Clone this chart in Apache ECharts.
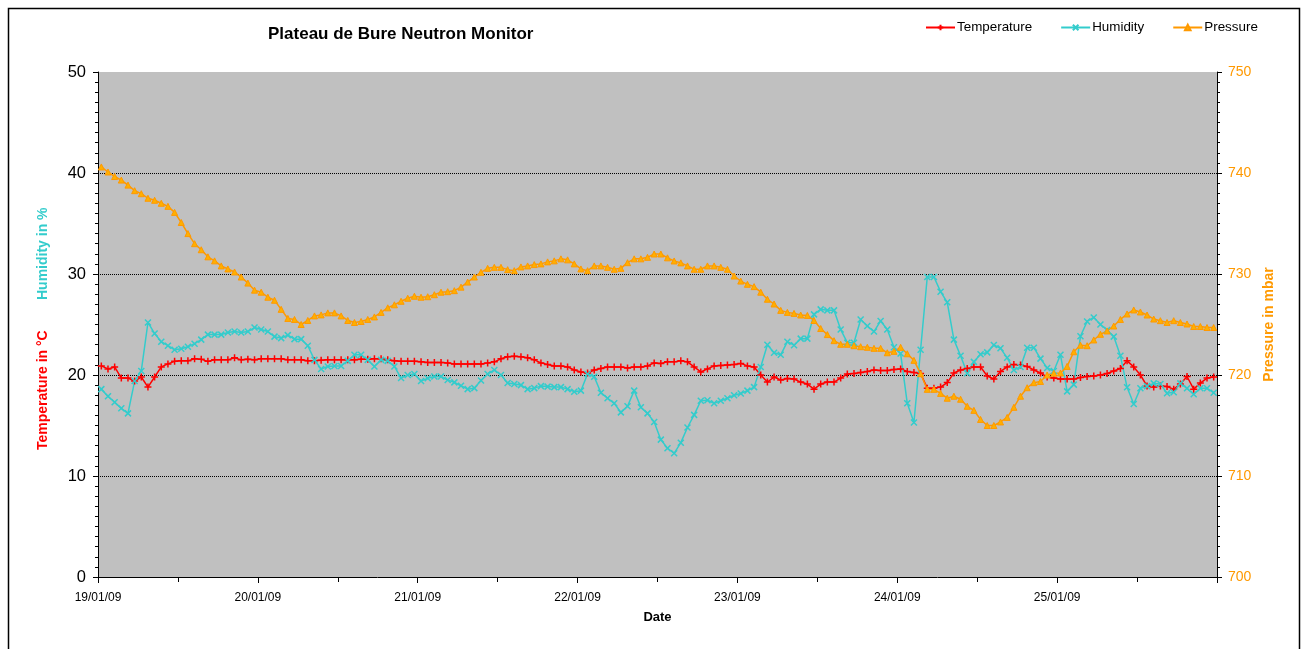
<!DOCTYPE html>
<html><head><meta charset="utf-8">
<script src="https://cdn.jsdelivr.net/npm/echarts@6/dist/echarts.min.js"></script>
<style>html,body{margin:0;padding:0;background:#fff}#c{width:1304px;height:649px}</style>
</head><body><div id="c"></div>
<script>
// Day tick labels (one per 24 h)
const dayLabels = ['19/01/09','20/01/09','21/01/09','22/01/09','23/01/09','24/01/09','25/01/09'];

// Hourly values, 19/01/09 00:30 .. 25/01/09 23:30
const temperature = [
20.9,20.6,20.8,19.7,19.7,19.4,19.8,18.8,19.8,20.8,21.1,21.35,21.4,21.4,21.6,21.55,21.35,21.5,21.5,21.5,21.7,21.5,21.55,21.5,
21.6,21.6,21.6,21.6,21.5,21.5,21.5,21.4,21.4,21.45,21.5,21.5,21.5,21.5,21.5,21.55,21.55,21.6,21.6,21.5,21.4,21.35,21.35,21.35,
21.3,21.25,21.25,21.25,21.2,21.1,21.1,21.1,21.1,21.1,21.2,21.3,21.6,21.8,21.85,21.8,21.7,21.5,21.2,21.05,20.9,20.9,20.8,20.5,
20.3,20.2,20.5,20.65,20.8,20.8,20.8,20.7,20.8,20.8,20.9,21.2,21.15,21.3,21.3,21.4,21.3,20.8,20.3,20.6,20.9,20.95,21.0,21.05,
21.15,20.9,20.8,20.0,19.3,19.8,19.5,19.65,19.6,19.3,19.1,18.6,19.1,19.3,19.3,19.7,20.1,20.15,20.25,20.35,20.5,20.45,20.45,20.55,
20.6,20.35,20.25,20.15,18.7,18.7,18.8,19.25,20.2,20.5,20.65,20.8,20.8,19.9,19.6,20.35,20.8,21.05,21.0,20.85,20.5,20.2,19.8,19.7,
19.6,19.6,19.6,19.75,19.85,19.9,20.0,20.15,20.4,20.65,21.4,20.8,20.0,18.9,18.8,18.9,18.85,18.6,19.1,19.85,18.6,19.2,19.7,19.8
];
const humidity = [
18.6,17.9,17.3,16.7,16.2,19.4,20.4,25.2,24.1,23.3,22.9,22.5,22.6,22.8,23.1,23.5,24.0,24.0,24.0,24.2,24.3,24.2,24.3,24.7,
24.5,24.3,23.8,23.65,23.95,23.55,23.55,22.9,21.5,20.6,20.85,20.9,20.9,21.4,22.0,22.0,21.5,20.85,21.5,21.4,20.85,19.7,20.0,20.1,
19.4,19.67,19.85,19.85,19.5,19.27,18.94,18.6,18.7,19.45,20.1,20.5,20.0,19.2,19.1,19.0,18.6,18.7,18.9,18.85,18.8,18.8,18.6,18.35,
18.45,20.1,19.83,18.25,17.7,17.2,16.3,16.9,18.45,16.8,16.2,15.35,13.6,12.75,12.25,13.3,14.8,16.05,17.45,17.5,17.2,17.45,17.7,18.0,
18.17,18.45,18.8,20.8,23.0,22.2,22.0,23.3,22.95,23.6,23.6,26.0,26.5,26.4,26.4,24.5,23.2,23.2,25.5,24.85,24.3,25.35,24.5,22.74,
22.12,17.2,15.3,22.5,29.7,29.7,28.25,27.2,23.5,21.9,20.17,21.3,22.05,22.24,22.97,22.64,21.7,20.5,20.8,22.7,22.7,21.62,20.7,20.4,
22.0,18.38,19.05,23.83,25.3,25.7,25.0,24.46,23.8,21.9,18.78,17.13,18.68,18.9,19.17,19.1,18.2,18.3,19.17,18.68,18.1,18.68,18.68,18.25
];
const pressure = [
740.6,740.1,739.65,739.3,738.8,738.25,737.95,737.5,737.3,737.0,736.7,736.1,735.1,734.0,733.0,732.4,731.7,731.3,730.8,730.5,730.2,729.7,729.1,728.4,
728.2,727.7,727.4,726.5,725.6,725.5,725.0,725.4,725.85,725.95,726.15,726.15,725.85,725.4,725.2,725.3,725.5,725.75,726.2,726.65,726.95,727.3,727.6,727.8,
727.7,727.75,727.95,728.2,728.25,728.35,728.7,729.2,729.7,730.17,730.56,730.66,730.66,730.43,730.33,730.7,730.8,730.93,731.0,731.2,731.3,731.5,731.4,731.0,
730.5,730.33,730.8,730.8,730.66,730.47,730.56,731.12,731.5,731.5,731.65,731.98,731.98,731.6,731.29,731.1,730.8,730.47,730.47,730.8,730.8,730.66,730.47,729.8,
729.3,728.98,728.75,728.2,727.5,727.03,726.4,726.2,726.1,725.94,725.9,725.4,724.6,724.0,723.4,723.04,723.04,722.9,722.8,722.74,722.64,722.64,722.2,722.34,
722.74,722.1,721.45,720.13,718.58,718.58,718.18,717.7,717.9,717.6,716.9,716.5,715.6,715.0,715.0,715.35,715.8,716.8,717.9,718.74,719.24,719.36,720.0,720.17,
720.2,720.85,722.3,722.95,722.9,723.47,724.03,724.36,724.85,725.5,726.04,726.44,726.24,725.94,725.54,725.38,725.2,725.38,725.2,725.05,724.8,724.8,724.7,724.7
];

// each value is the mean of one hour, placed at the middle of that hour
const hourCentre = temperature.map((_, i) => i + 0.5);
const toPoints = values => values.map((v, i) => [hourCentre[i], v]);

const FONT = '"Liberation Sans", Arial, sans-serif';
const RED = '#FF0000', CYAN = '#33CCCC', ORANGE = '#FF9900';
const PLUS = 'path://M0,5L10,5M5,0L5,10';
const CROSS = 'path://M0,0L10,10M10,0L0,10';

const chart = echarts.init(document.getElementById('c'));
chart.setOption({
  animation: false,
  backgroundColor: '#fff',
  textStyle: { fontFamily: FONT },
  title: {
    text: 'Plateau de Bure Neutron Monitor', left: 263, top: 21,
    textStyle: { fontSize: 17, fontWeight: 'bold', color: '#000', fontFamily: FONT }
  },
  legend: {
    left: 920, top: 16, itemWidth: 29, itemHeight: 7, itemGap: 28,
    textStyle: { fontSize: 13.4, color: '#000', fontFamily: FONT, padding: [0, 0, 0, -3] },
    data: ['Temperature', 'Humidity', 'Pressure']
  },
  grid: {
    left: 98, right: 87, top: 72, bottom: 72,
    show: true, backgroundColor: '#C0C0C0', borderWidth: 0,
    outerBoundsMode: 'none'
  },
  xAxis: {
    type: 'value', min: 0, max: 168, interval: 24,
    name: 'Date', nameLocation: 'middle', nameGap: 34,
    nameTextStyle: { fontWeight: 'bold', fontSize: 13, color: '#000', fontFamily: FONT },
    axisLine: { lineStyle: { color: '#000', width: 1 } },
    axisTick: { length: 6, lineStyle: { color: '#000' } },
    minorTick: { show: true, splitNumber: 2, length: 5, lineStyle: { color: '#000' } },
    splitLine: { show: false },
    axisLabel: {
      fontSize: 12, color: '#000', margin: 15, fontFamily: FONT,
      formatter: v => dayLabels[Math.round(v / 24)] || ''
    }
  },
  yAxis: [
    {
      type: 'value', min: 0, max: 50, interval: 10, position: 'left',
      axisLine: { show: true, lineStyle: { color: '#000', width: 1 } },
      axisTick: { show: true, length: 5, lineStyle: { color: '#000' } },
      minorTick: { show: true, splitNumber: 10, length: 3, lineStyle: { color: '#000' } },
      splitLine: { show: true, showMaxLine: false, lineStyle: { color: '#000', type: 'dotted', width: 1 } },
      axisLabel: { fontSize: 16.5, color: '#000', margin: 12, fontFamily: FONT }
    },
    {
      type: 'value', min: 700, max: 750, interval: 10, position: 'right',
      name: 'Pressure in mbar', nameLocation: 'middle', nameRotate: 90, nameGap: 34,
      nameTextStyle: { color: ORANGE, fontWeight: 'bold', fontSize: 14, fontFamily: FONT },
      axisLine: { show: true, lineStyle: { color: '#000', width: 1 } },
      axisTick: { show: true, length: 5, lineStyle: { color: '#000' } },
      minorTick: { show: true, splitNumber: 10, length: 3, lineStyle: { color: '#000' } },
      splitLine: { show: false },
      axisLabel: { fontSize: 14, color: ORANGE, margin: 11, fontFamily: FONT }
    }
  ],
  graphic: [
    { type: 'rect', silent: true, shape: { x: 8.5, y: 8.5, width: 1291, height: 700 },
      style: { fill: 'none', stroke: '#000', lineWidth: 1.5 } },
    { type: 'text', x: 50, y: 450, rotation: Math.PI / 2,
      style: { text: 'Temperature in °C', fill: RED, font: 'bold 14px "Liberation Sans", Arial', align: 'left', verticalAlign: 'bottom' } },
    { type: 'text', x: 50, y: 300, rotation: Math.PI / 2,
      style: { text: 'Humidity in %', fill: CYAN, font: 'bold 14px "Liberation Sans", Arial', align: 'left', verticalAlign: 'bottom' } }
  ],
  series: [
    {
      name: 'Temperature', type: 'line', yAxisIndex: 0, data: toPoints(temperature),
      symbol: PLUS, symbolSize: 7, showSymbol: true,
      lineStyle: { color: RED, width: 1.5 },
      itemStyle: { color: RED, borderColor: RED, borderWidth: 1.5 }
    },
    {
      name: 'Humidity', type: 'line', yAxisIndex: 0, data: toPoints(humidity),
      symbol: CROSS, symbolSize: 6, showSymbol: true,
      lineStyle: { color: CYAN, width: 1.5 },
      itemStyle: { color: CYAN, borderColor: CYAN, borderWidth: 1.5 }
    },
    {
      name: 'Pressure', type: 'line', yAxisIndex: 1, data: toPoints(pressure),
      symbol: 'triangle', symbolSize: 6, showSymbol: true,
      lineStyle: { color: ORANGE, width: 1.5 },
      itemStyle: { color: '#FFB000', borderColor: ORANGE, borderWidth: 1 }
    }
  ]
});
</script>
</body></html>
